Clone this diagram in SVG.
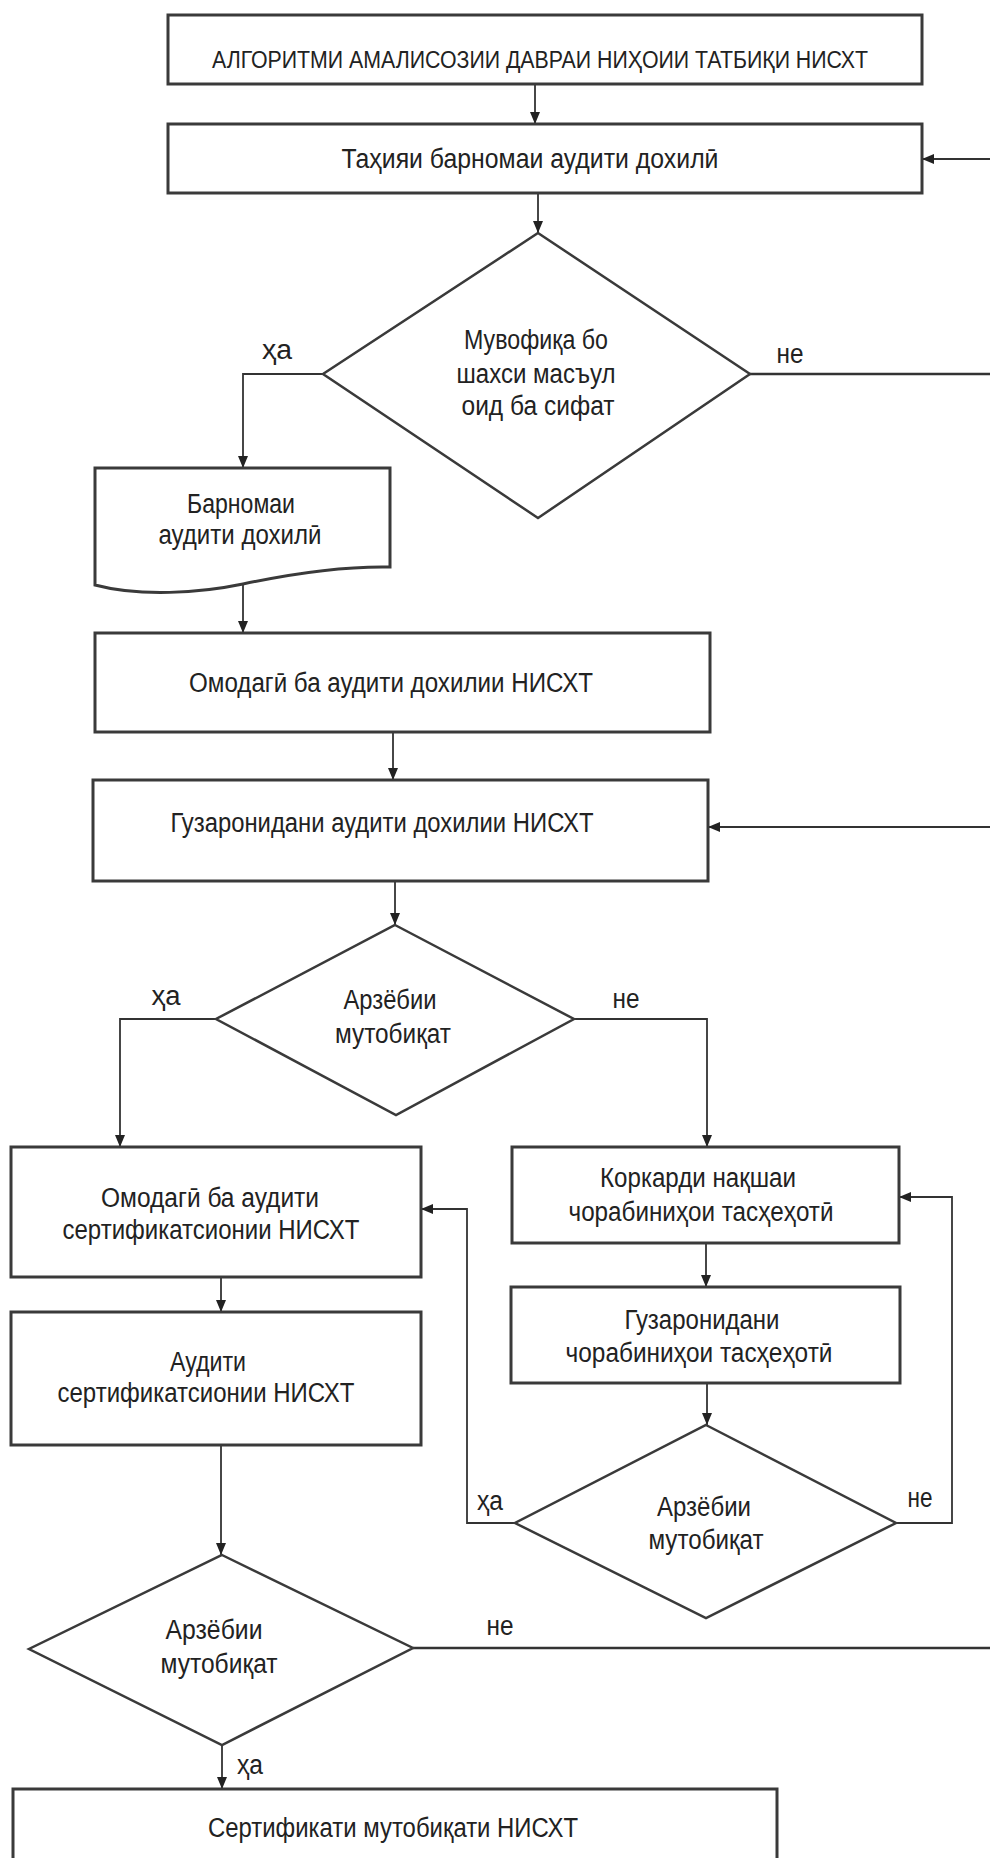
<svg xmlns="http://www.w3.org/2000/svg" width="990" height="1858" viewBox="0 0 990 1858">
<style>
.box{fill:#fff;stroke:#3a3a3a;stroke-width:3}
.dia{fill:#fff;stroke:#3a3a3a;stroke-width:2.5}
.t{font-family:"Liberation Sans","DejaVu Sans",Arial,sans-serif;font-size:27px;fill:#222;text-anchor:middle}
.tt{font-size:23px}
.c{fill:none;stroke:#333;stroke-width:2.5}
.ca{fill:none;stroke:#333;stroke-width:1.8;marker-end:url(#ah)}
</style>
<defs>
<marker id="ah" viewBox="0 0 12 10" refX="12" refY="5" markerWidth="12" markerHeight="10" orient="auto" markerUnits="userSpaceOnUse">
<path d="M0,0 L12,5 L0,10 z" fill="#222"/>
</marker>
</defs>
<rect width="990" height="1858" fill="#fff"/>

<g id="connectors">
<path class="ca" d="M535,84 V124"/>
<path class="ca" d="M990,159 H922"/>
<path class="ca" d="M538,193 V233"/>
<path class="ca" d="M323,374 H243 V468"/>
<path class="c" d="M750,374 H990"/>
<path class="ca" d="M243,585 V633"/>
<path class="ca" d="M393,732 V780"/>
<path class="ca" d="M990,827 H708"/>
<path class="ca" d="M395,881 V925"/>
<path class="ca" d="M216,1019 H120 V1147"/>
<path class="ca" d="M574,1019 H707 V1147"/>
<path class="ca" d="M221,1277 V1312"/>
<path class="ca" d="M706,1243 V1287"/>
<path class="ca" d="M707,1383 V1425"/>
<path class="ca" d="M515,1523 H467 V1209 H421"/>
<path class="ca" d="M896,1523 H952 V1197 H899"/>
<path class="ca" d="M221,1445 V1555"/>
<path class="c" d="M413,1648 H990"/>
<path class="ca" d="M222,1745 V1789"/>
</g>

<g id="n_title">
<rect class="box" x="168" y="15" width="754" height="69"/>
<text class="t tt" x="540" y="68" textLength="656" lengthAdjust="spacingAndGlyphs">АЛГОРИТМИ АМАЛИСОЗИИ ДАВРАИ НИҲОИИ ТАТБИҚИ НИСХТ</text>
</g>

<g id="n_plan">
<rect class="box" x="168" y="124" width="754" height="69"/>
<text class="t" x="530" y="168" textLength="377" lengthAdjust="spacingAndGlyphs">Таҳияи барномаи аудити дохилӣ</text>
</g>

<g id="n_dec1">
<polygon class="dia" points="538,233 750,374 538,518 323,374"/>
<text class="t" x="536" y="349" textLength="144" lengthAdjust="spacingAndGlyphs">Мувофиқа бо</text>
<text class="t" x="536" y="383" textLength="159" lengthAdjust="spacingAndGlyphs">шахси масъул</text>
<text class="t" x="538" y="415" textLength="153" lengthAdjust="spacingAndGlyphs">оид ба сифат</text>
<text class="t" x="277" y="359" textLength="30" lengthAdjust="spacingAndGlyphs">ҳа</text>
<text class="t" x="790" y="363" textLength="27" lengthAdjust="spacingAndGlyphs">не</text>
</g>

<g id="n_doc">
<path class="box" d="M95,468 H390 V567 C340,566 290,574 243,584 C200,593 140,597 95,585 Z"/>
<text class="t" x="241" y="513" textLength="108" lengthAdjust="spacingAndGlyphs">Барномаи</text>
<text class="t" x="240" y="544" textLength="163" lengthAdjust="spacingAndGlyphs">аудити дохилӣ</text>
</g>

<g id="n_prep">
<rect class="box" x="95" y="633" width="615" height="99"/>
<text class="t" x="391" y="692" textLength="404" lengthAdjust="spacingAndGlyphs">Омодагӣ ба аудити дохилии НИСХТ</text>
</g>

<g id="n_conduct">
<rect class="box" x="93" y="780" width="615" height="101"/>
<text class="t" x="382" y="832" textLength="423" lengthAdjust="spacingAndGlyphs">Гузаронидани аудити дохилии НИСХТ</text>
</g>

<g id="n_dec2">
<polygon class="dia" points="395,925 574,1019 396,1115 216,1019"/>
<text class="t" x="390" y="1009" textLength="93" lengthAdjust="spacingAndGlyphs">Арзёбии</text>
<text class="t" x="393" y="1043" textLength="116" lengthAdjust="spacingAndGlyphs">мутобиқат</text>
<text class="t" x="166" y="1005" textLength="29" lengthAdjust="spacingAndGlyphs">ҳа</text>
<text class="t" x="626" y="1008" textLength="27" lengthAdjust="spacingAndGlyphs">не</text>
</g>

<g id="n_certprep">
<rect class="box" x="11" y="1147" width="410" height="130"/>
<text class="t" x="210" y="1207" textLength="218" lengthAdjust="spacingAndGlyphs">Омодагӣ ба аудити</text>
<text class="t" x="211" y="1239" textLength="297" lengthAdjust="spacingAndGlyphs">сертификатсионии НИСХТ</text>
</g>

<g id="n_certaudit">
<rect class="box" x="11" y="1312" width="410" height="133"/>
<text class="t" x="208" y="1371" textLength="76" lengthAdjust="spacingAndGlyphs">Аудити</text>
<text class="t" x="206" y="1402" textLength="297" lengthAdjust="spacingAndGlyphs">сертификатсионии НИСХТ</text>
</g>

<g id="n_plancorr">
<rect class="box" x="512" y="1147" width="387" height="96"/>
<text class="t" x="698" y="1187" textLength="196" lengthAdjust="spacingAndGlyphs">Коркарди нақшаи</text>
<text class="t" x="701" y="1221" textLength="265" lengthAdjust="spacingAndGlyphs">чорабиниҳои тасҳеҳотӣ</text>
</g>

<g id="n_docorr">
<rect class="box" x="511" y="1287" width="389" height="96"/>
<text class="t" x="702" y="1329" textLength="155" lengthAdjust="spacingAndGlyphs">Гузаронидани</text>
<text class="t" x="699" y="1362" textLength="267" lengthAdjust="spacingAndGlyphs">чорабиниҳои тасҳеҳотӣ</text>
</g>

<g id="n_dec4">
<polygon class="dia" points="706,1425 896,1523 706,1618 515,1523"/>
<text class="t" x="704" y="1516" textLength="94" lengthAdjust="spacingAndGlyphs">Арзёбии</text>
<text class="t" x="706" y="1549" textLength="115" lengthAdjust="spacingAndGlyphs">мутобиқат</text>
<text class="t" x="490" y="1510" textLength="26" lengthAdjust="spacingAndGlyphs">ҳа</text>
<text class="t" x="920" y="1507" textLength="25" lengthAdjust="spacingAndGlyphs">не</text>
</g>

<g id="n_dec3">
<polygon class="dia" points="222,1555 413,1648 222,1745 29,1649"/>
<text class="t" x="214" y="1639" textLength="97" lengthAdjust="spacingAndGlyphs">Арзёбии</text>
<text class="t" x="219" y="1673" textLength="117" lengthAdjust="spacingAndGlyphs">мутобиқат</text>
<text class="t" x="500" y="1635" textLength="27" lengthAdjust="spacingAndGlyphs">не</text>
<text class="t" x="250" y="1774" textLength="26" lengthAdjust="spacingAndGlyphs">ҳа</text>
</g>

<g id="n_final">
<rect class="box" x="13" y="1789" width="764" height="100"/>
<text class="t" x="393" y="1837" textLength="370" lengthAdjust="spacingAndGlyphs">Сертификати мутобиқати НИСХТ</text>
</g>
</svg>
